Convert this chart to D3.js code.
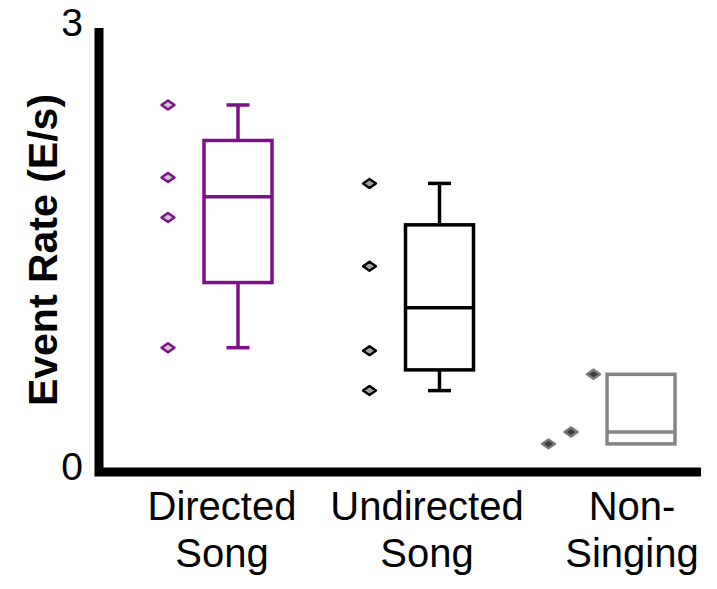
<!DOCTYPE html>
<html>
<head>
<meta charset="utf-8">
<script src="https://cdn.jsdelivr.net/npm/d3@7"></script>
<style>
  body { margin: 0; background: #fff; }
  text { font-family: "Liberation Sans", Arial, sans-serif; }
</style>
</head>
<body>
<div id="chart"></div>
<script>
// data
const groups = ["Directed Song", "Undirected Song", "Non-Singing"];
const labelLines = [["Directed", "Song"], ["Undirected", "Song"], ["Non-", "Singing"]];
const whiskerLow  = [0.84, 0.55, 0.19];
const boxLow      = [1.28, 0.69, 0.19];
const medians     = [1.86, 1.11, 0.27];
const boxHigh     = [2.24, 1.67, 0.66];
const whiskerHigh = [2.48, 1.95, 0.66];
const outlierGroup = [0, 0, 0, 0, 1, 1, 1, 1, 2, 2, 2];
const outlierValue = [2.48, 1.99, 1.72, 0.84, 1.95, 1.39, 0.82, 0.55, 0.66, 0.27, 0.19];
const outlierLane  = [0, 0, 0, 0, 0, 0, 0, 0, -1, 0, 1];
const yTicks = [0, 3];

const colors = ["#7d0f88", "#000000", "#858585"];
const dotFill = ["#cdc4d0", "#a3a3a3", "#3d3d3d"];
const dotStroke = ["#7d0f88", "#000000", "#7a7a7a"];

const width = 717, height = 589;

const svg = d3.select("#chart")
    .append("svg")
    .attr("width", width)
    .attr("height", height);

const y = d3.scaleLinear()
    .domain([0, 3])
    .range([472, 28]);

const x = d3.scalePoint()
    .domain(groups)
    .range([238, 641]);

// labels sit a bit left of the boxes
const xLabel = d3.scalePoint()
    .domain(groups)
    .range([222, 632]);

// axes
svg.append("path")
    .attr("d", `M99,${y(3)}V${y(0)}H701`)
    .attr("fill", "none")
    .attr("stroke", "#000")
    .attr("stroke-width", 9);

svg.selectAll(".ytick")
  .data(yTicks)
  .join("text")
    .attr("class", "ytick")
    .attr("x", 83)
    .attr("y", d => y(d) + 8)
    .attr("text-anchor", "end")
    .attr("font-size", 39)
    .text(d => d);

svg.append("text")
    .attr("transform", "translate(57,250) rotate(-90)")
    .attr("text-anchor", "middle")
    .attr("font-size", 41)
    .attr("font-weight", "bold")
    .text("Event Rate (E/s)");

// category labels
const lab = svg.selectAll(".xlab")
  .data(groups)
  .join("text")
    .attr("class", "xlab")
    .attr("text-anchor", "middle")
    .attr("font-size", 40);
lab.selectAll("tspan")
  .data((d, i) => labelLines[i].map(t => ({ t, g: d })))
  .join("tspan")
    .attr("x", d => xLabel(d.g))
    .attr("y", (d, i) => 520 + i * 47)
    .text(d => d.t);

// boxes
const boxW = 68, capW = 23;
const box = svg.selectAll(".box")
  .data(groups)
  .join("g")
    .attr("class", "box")
    .attr("stroke", (d, i) => colors[i])
    .attr("stroke-width", 3.5)
    .attr("fill", "none");

box.append("line")
    .attr("x1", d => x(d)).attr("x2", d => x(d))
    .attr("y1", (d, i) => y(whiskerHigh[i])).attr("y2", (d, i) => y(boxHigh[i]));
box.append("line")
    .attr("x1", d => x(d)).attr("x2", d => x(d))
    .attr("y1", (d, i) => y(boxLow[i])).attr("y2", (d, i) => y(whiskerLow[i]));
box.filter((d, i) => whiskerHigh[i] > boxHigh[i]).append("line")
    .attr("x1", d => x(d) - capW / 2).attr("x2", d => x(d) + capW / 2)
    .attr("y1", d => y(whiskerHigh[groups.indexOf(d)]))
    .attr("y2", d => y(whiskerHigh[groups.indexOf(d)]));
box.filter((d, i) => whiskerLow[i] < boxLow[i]).append("line")
    .attr("x1", d => x(d) - capW / 2).attr("x2", d => x(d) + capW / 2)
    .attr("y1", d => y(whiskerLow[groups.indexOf(d)]))
    .attr("y2", d => y(whiskerLow[groups.indexOf(d)]));
box.append("rect")
    .attr("x", d => x(d) - boxW / 2)
    .attr("width", boxW)
    .attr("y", (d, i) => y(boxHigh[i]))
    .attr("height", (d, i) => y(boxLow[i]) - y(boxHigh[i]))
    .attr("fill", "#fff");
box.append("line")
    .attr("x1", d => x(d) - boxW / 2).attr("x2", d => x(d) + boxW / 2)
    .attr("y1", (d, i) => y(medians[i])).attr("y2", (d, i) => y(medians[i]));

// outliers (diamonds)
svg.selectAll(".dot")
  .data(outlierValue)
  .join("path")
    .attr("class", "dot")
    .attr("transform", (d, i) => {
      const cx = x(groups[outlierGroup[i]]) - 70 - outlierLane[i] * 22.5;
      return `translate(${cx},${y(d)})`;
    })
    .attr("d", "M-6.5,0L0,-4.5L6.5,0L0,4.5Z")
    .attr("fill", (d, i) => dotFill[outlierGroup[i]])
    .attr("stroke", (d, i) => dotStroke[outlierGroup[i]])
    .attr("stroke-width", 2.4)
    .attr("stroke-linejoin", "round");
</script>
</body>
</html>
